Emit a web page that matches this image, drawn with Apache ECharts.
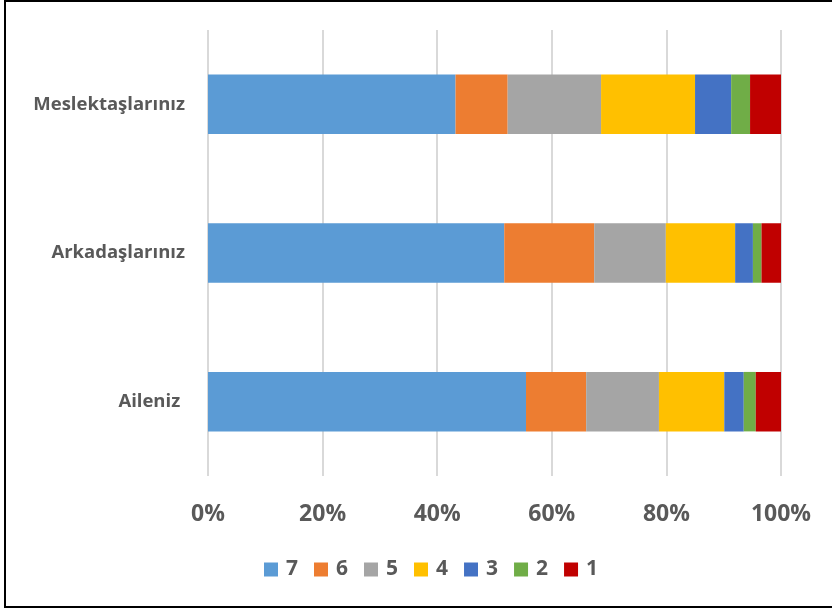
<!DOCTYPE html>
<html>
<head>
<meta charset="utf-8">
<script src="https://cdn.jsdelivr.net/npm/echarts@6/dist/echarts.min.js"></script>
<style>
  html, body { margin: 0; padding: 0; background: #fff; overflow: hidden; }
  #frame { position: absolute; left: 4px; top: 0px; width: 900px; height: 608px; border: 2px solid #000; box-sizing: border-box; }
  #chart { position: absolute; left: 0; top: 0; width: 832px; height: 610px; }
</style>
</head>
<body>
<div id="frame"></div>
<div id="chart"></div>
<script>
const categories = ['Meslektaşlarınız', 'Arkadaşlarınız', 'Aileniz '];
const seriesNames = ['7', '6', '5', '4', '3', '2', '1'];
const s7 = [43.2, 51.7, 55.5];
const s6 = [9.1, 15.7, 10.5];
const s5 = [16.3, 12.5, 12.7];
const s4 = [16.4, 12.1, 11.4];
const s3 = [6.3, 3.1, 3.4];
const s2 = [3.3, 1.5, 2.1];
const s1 = [5.4, 3.4, 4.4];
const tickLabels = ['0%', '20%', '40%', '60%', '80%', '100%'];
const colors = ['#5B9BD5', '#ED7D31', '#A5A5A5', '#FFC000', '#4472C4', '#70AD47', '#C00000'];

const values = [s7, s6, s5, s4, s3, s2, s1];
const font = '"Open Sans", "Liberation Sans", sans-serif';

const chart = echarts.init(document.getElementById('chart'), null, { renderer: 'canvas' });
chart.setOption({
  backgroundColor: 'transparent',
  animation: false,
  color: colors,
  grid: { left: 208, right: 51, top: 30, bottom: 134, containLabel: false },
  xAxis: {
    type: 'value', min: 0, max: 100, interval: 20,
    axisLine: { show: false }, axisTick: { show: false },
    splitLine: { show: true, lineStyle: { color: '#d9d9d9', width: 2 } },
    axisLabel: {
      margin: 27, color: '#595959', fontSize: 23, fontWeight: 'bold', fontFamily: font,
      formatter: function (v) { return tickLabels[Math.round(v / 20)]; }
    }
  },
  yAxis: {
    type: 'category', data: categories, inverse: true,
    axisLine: { show: false }, axisTick: { show: false },
    axisLabel: { margin: 23, color: '#595959', fontSize: 18.5, fontWeight: 'bold', fontFamily: font }
  },
  legend: {
    data: seriesNames, left: 259, top: 554, icon: 'rect',
    itemWidth: 14, itemHeight: 14, itemGap: 16,
    textStyle: { color: '#595959', fontSize: 21, fontWeight: 'bold', fontFamily: font, padding: [0, 0, 0, 3] }
  },
  series: seriesNames.map(function (name, i) {
    return {
      name: name, type: 'bar', stack: 'total', data: values[i],
      barCategoryGap: '60%',
      itemStyle: { color: colors[i] }
    };
  })
});
</script>
</body>
</html>
